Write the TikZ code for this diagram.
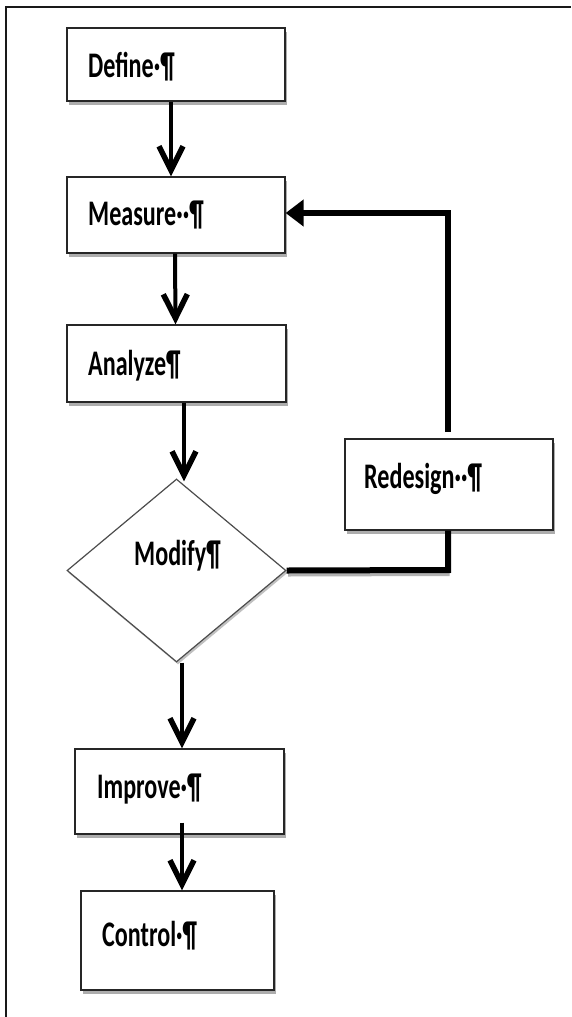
\documentclass[tikz,border=0pt]{standalone}
\usepackage{fontspec}
\usepackage{graphicx}
\setmainfont{Carlito}
\usetikzlibrary{arrows.meta,shapes.geometric,shadows,calc}
\newcommand\sqz[1]{\scalebox{0.67}[1]{#1}}
\tikzset{
  boxshape/.style={draw=black!85, line width=1.3pt, fill=white, inner sep=0pt,
    drop shadow={shadow xshift=1.5pt, shadow yshift=-3.5pt, fill=black!40, opacity=0.8}},
  lbl/.style={anchor=base west, inner sep=0pt, font=\bfseries\fontsize{36}{40}\selectfont},
  arr/.style={line width=4pt, -{Straight Barb[length=24pt,width=24pt,line width=5.5pt]}},
  fb/.style={line width=6pt},
  frameline/.style={line width=2.2pt, black!90}
}
\begin{document}
\begin{tikzpicture}[x=1pt,y=-1pt]
\useasboundingbox (0,0) rectangle (571,1017);
\fill[white] (0,0) rectangle (571,1017);
% frame
\coordinate (ftl) at (6,7);
\coordinate (ftr) at (571,7);
\coordinate (fbl) at (6,1017);
\draw[frameline] (fbl) -- (ftl) -- (ftr);
% boxes
\node[boxshape, minimum width=218pt, minimum height=73pt] (def) at (176,64.5) {};
\node[boxshape, minimum width=218pt, minimum height=76pt] (meas) at (176,215) {};
\node[boxshape, minimum width=219pt, minimum height=77pt] (ana) at (176.5,363.5) {};
\node[diamond, draw=black!70, line width=1.2pt, fill=white, inner sep=0pt,
      minimum width=219pt, minimum height=183pt,
      drop shadow={shadow xshift=1.5pt, shadow yshift=-2.5pt, fill=black!35, opacity=0.7}] (mod) at (176.5,570.5) {};
\node[boxshape, minimum width=208pt, minimum height=91pt] (red) at (449,484.5) {};
\node[boxshape, minimum width=209pt, minimum height=85pt] (imp) at (179.5,791.5) {};
\node[boxshape, minimum width=193pt, minimum height=99pt] (con) at (177.5,940.5) {};
% labels
\node[lbl] (tdef) at (88,77) {\sqz{Define·¶}};
\node[lbl] (tmeas) at (88,225) {\sqz{Measure··¶}};
\node[lbl] (tana) at (88,375) {\sqz{Analyze¶}};
\node[lbl] (tmod) at (134,565) {\sqz{Modify¶}};
\node[lbl] (tred) at (364,488) {\sqz{Redesign··¶}};
\node[lbl] (timp) at (97,798) {\sqz{Improve·¶}};
\node[lbl] (tcon) at (102,946) {\sqz{Control·¶}};
% connectors
\draw[arr] ([xshift=-5pt]def.south) -- ([xshift=-5pt]meas.north);
\draw[arr] ([xshift=-1pt]meas.south) -- ([xshift=-1pt]ana.north);
\draw[arr] ([xshift=7.5pt]ana.south) -- ([xshift=7.5pt, yshift=-3pt]mod.north);
\draw[arr] ([xshift=5.5pt]mod.south) -- ([xshift=2.5pt]imp.north);
\draw[arr] ([xshift=2.5pt, yshift=12pt]imp.south) -- ([xshift=4.5pt]con.north);
% feedback loop
\coordinate (c1) at (448,570);
\coordinate (c2) at (448,432);
\coordinate (c3) at (448,213);
\coordinate (c4) at (meas.east |- c3);
\draw[fb, black!30] ([shift={(1.5,3)}]mod.east) -- ([shift={(1.5,3)}]c1);
\draw[fb] (mod.east) -- (c1) -- (c1 |- red.south);
\draw[fb, -{Triangle[length=18pt,width=26pt]}] (c2) -- (c3) -- (c4);
\end{tikzpicture}
\end{document}
